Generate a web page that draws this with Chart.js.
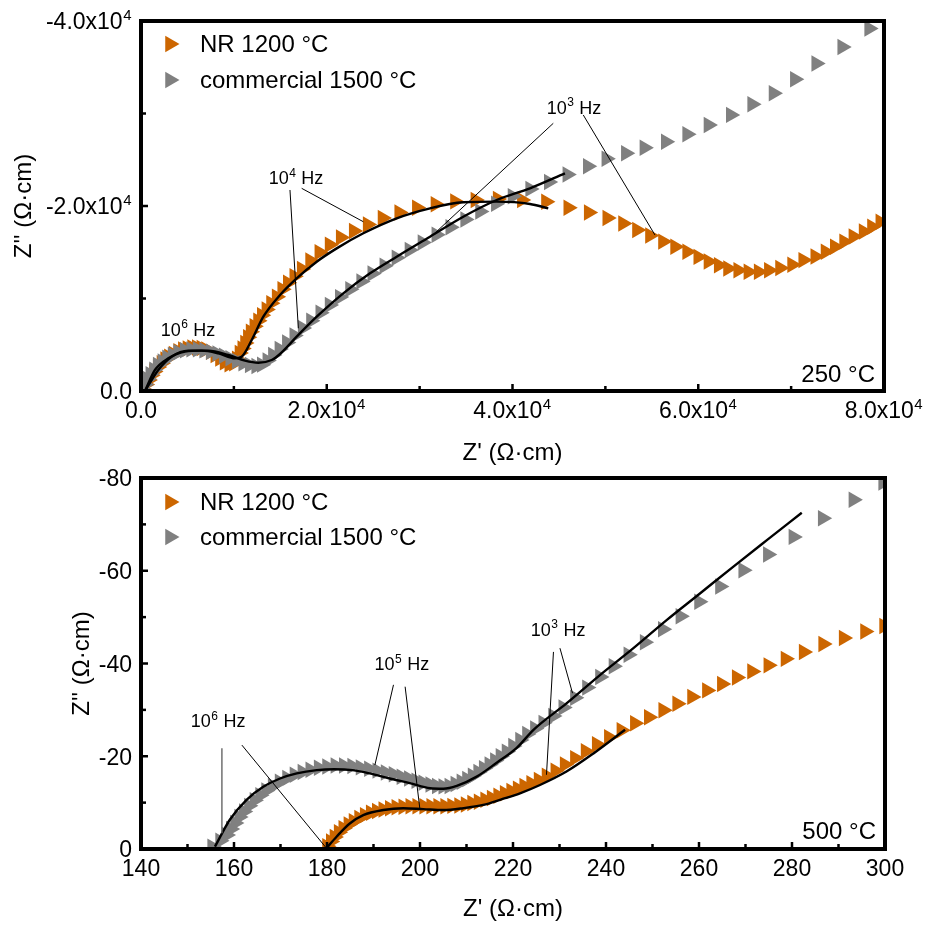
<!DOCTYPE html>
<html>
<head>
<meta charset="utf-8">
<script src="https://cdn.jsdelivr.net/npm/chart.js@4.4.1/dist/chart.umd.min.js"></script>
<style>
  html, body { margin: 0; padding: 0; background: #fff; }
  #wrap { position: relative; width: 929px; height: 927px; overflow: hidden; }
  canvas { position: absolute; left: 0; }
  #c250 { top: 0; }
  #c500 { top: 463px; }
</style>
</head>
<body>
<div id="wrap">
  <canvas id="c250" width="929" height="468"></canvas>
  <canvas id="c500" width="929" height="464"></canvas>
</div>
<script>
const FONT = "'Liberation Sans', Arial, Helvetica, sans-serif";
const ORANGE = '#CC6600';
const GRAY = '#808080';

const seriesNames = ['NR 1200 °C', 'commercial 1500 °C'];
const panelLabels = ['250 °C', '500 °C'];

// ---------- 250 °C : Z' and Z'' in Ω·cm ----------
const nr250X = [200,500,800,1100,1400,1800,2200,2600,3000,3500,4000,4500,5000,5500,6000,6500,7000,7500,8000,8500,
  9000,9500,10000,10300,10600,10900,11200,11500,11800,12200,12600,13000,13500,14000,14600,15200,15800,16500,17300,18200,
  19200,20300,21500,22900,24400,26000,27800,29700,31700,33800,36000,38400,41000,43600,46000,48200,50200,51900,53400,54800,
  56200,57500,58800,60000,61100,62200,63200,64300,65400,66500,67600,68800,70100,71300,72600,73700,74700,75700,76700,77800,
  78700,79600,80500];
const nr250Y = [-200,-700,-1200,-1700,-2100,-2600,-3000,-3400,-3700,-4000,-4300,-4500,-4600,-4700,-4700,-4650,-4500,-4250,-3900,-3500,
  -3100,-2900,-3000,-3500,-4100,-4600,-5200,-5800,-6400,-7000,-7600,-8200,-8800,-9500,-10200,-11000,-11700,-12400,-13200,-14100,
  -15000,-15800,-16600,-17300,-18000,-18700,-19300,-19800,-20200,-20500,-20650,-20750,-20650,-20450,-19800,-19300,-18700,-18100,-17400,-16800,
  -16150,-15600,-15050,-14500,-14000,-13600,-13250,-13050,-12900,-12900,-13050,-13300,-13650,-14150,-14550,-15050,-15600,-16150,-16700,-17250,
  -17750,-18300,-18850];

const com250X = [150,400,700,1000,1400,1800,2300,2800,3400,4000,4700,5400,6100,6800,7500,8200,8900,9600,10300,11000,
  11700,12400,13000,13600,14200,14900,15700,16500,17400,18300,19300,20300,21400,22500,23700,24900,26200,27500,28900,30300,
  31800,33300,34900,36500,38200,40000,41900,43900,45900,48100,50100,52200,54200,56500,58800,61100,63500,65800,68100,70400,
  72700,75500,78400];
const com250Y = [-200,-700,-1300,-1800,-2300,-2800,-3200,-3600,-3900,-4200,-4400,-4500,-4500,-4400,-4250,-4050,-3800,-3550,-3250,-3000,
  -2800,-2700,-2850,-3300,-3900,-4550,-5250,-6000,-6800,-7600,-8450,-9300,-10150,-11000,-11850,-12700,-13550,-14400,-15250,-16050,
  -16900,-17700,-18550,-19400,-20250,-21050,-21850,-22600,-23400,-24300,-25100,-25700,-26300,-26950,-27750,-28750,-29850,-31000,-32200,-33700,
  -35400,-37200,-39200];

// equivalent-circuit fits
const fitNr250X = [430,1500,2940,4740,6530,8320,10120,10840,11920,13170,14970,16760,18920,21070,23940,27530,31120,34700,38300,41880,43850];
const fitNr250Y = [0,-2270,-3530,-4250,-4360,-4070,-3530,-3710,-5510,-8030,-10380,-12180,-13980,-15420,-17050,-18670,-19750,-20400,-20470,-20220,-19750];
const fitCom250X = [431,1860,3300,5090,7240,9400,11200,12630,14070,14970,16760,18920,21780,24660,27530,31120,34700,38300,41880,45650];
const fitCom250Y = [0,-2270,-3710,-4360,-4360,-3890,-3280,-3060,-3350,-4000,-5870,-8030,-10560,-12720,-14520,-16680,-18840,-20650,-21910,-23530];

const ticks250X = [0, 20000, 40000, 60000, 80000];
const minor250X = [10000, 30000, 50000, 70000];
const ticks250Y = [-40000, -20000, 0];
const minor250Y = [-30000, -10000];

// frequency callouts (label anchor, leader segments)
const notes250 = [
  { base: '10', sup: '6', x: 5060, y: -6700 },
  { base: '10', sup: '4', x: 16690, y: -23030 },
  { base: '10', sup: '3', x: 46620, y: -30700 }
];
const leaders250 = [
  [16040, -21730, 16940, -6780],
  [17300, -21910, 23940, -18300],
  [44390, -28940, 31660, -17080],
  [47620, -29840, 55340, -16860]
];

// ---------- 500 °C ----------
const nr500X = [180.0,180.8,181.6,182.5,183.5,184.6,185.7,186.9,188.1,189.4,190.7,192.1,193.5,194.9,196.4,197.9,199.4,200.9,202.4,203.9,
  205.4,206.9,208.4,209.8,211.2,212.6,214.0,215.4,216.8,218.2,219.6,221.0,222.4,223.9,225.5,227.2,229.1,231.1,233.3,235.6,
  238.0,240.6,243.3,246.2,249.2,252.3,255.3,258.5,261.7,264.9,268.1,271.4,274.9,278.6,282.5,286.7,291.1,295.7,299.8];
const nr500Y = [-0.6,-1.6,-2.6,-3.6,-4.5,-5.3,-6.0,-6.7,-7.3,-7.8,-8.2,-8.5,-8.8,-9.0,-9.1,-9.2,-9.2,-9.2,-9.2,-9.2,
  -9.2,-9.3,-9.4,-9.6,-9.9,-10.2,-10.6,-11.0,-11.5,-12.0,-12.5,-13.0,-13.6,-14.2,-14.9,-15.8,-16.9,-18.2,-19.6,-21.1,
  -22.6,-24.1,-25.6,-27.1,-28.4,-29.9,-31.3,-32.8,-34.2,-35.6,-37.0,-38.3,-39.6,-41.0,-42.5,-44.2,-45.5,-46.9,-48.1];

const com500X = [155.3,157.0,158.4,159.3,160.2,161.1,162.1,163.2,164.4,165.6,166.9,168.3,169.8,171.4,173.0,174.7,176.4,178.2,180.0,181.8,
  183.6,185.4,187.2,189.0,190.8,192.6,194.3,196.0,197.6,199.2,200.7,202.2,203.6,205.0,206.3,207.6,208.9,210.1,211.3,212.5,
  213.7,214.9,216.1,217.3,218.6,220.0,221.5,223.0,224.7,226.5,228.6,230.8,233.3,235.9,238.7,241.6,244.8,248.3,252.2,256.0,
  260.0,264.5,269.5,274.8,280.3,286.6,293.2,299.6];
const com500Y = [-0.5,-1.8,-3.0,-4.3,-5.6,-6.9,-8.1,-9.3,-10.5,-11.6,-12.6,-13.6,-14.5,-15.3,-16.0,-16.6,-17.1,-17.5,-17.8,-18.0,
  -18.0,-17.9,-17.6,-17.3,-16.9,-16.5,-16.1,-15.6,-15.2,-14.7,-14.3,-13.9,-13.6,-13.5,-13.6,-14.0,-14.5,-15.1,-15.8,-16.6,
  -17.4,-18.2,-19.1,-20.0,-21.0,-22.2,-23.5,-24.8,-26.0,-27.2,-28.7,-30.5,-32.6,-34.8,-37.1,-39.4,-41.9,-44.6,-47.4,-50.2,
  -53.3,-56.6,-60.1,-63.5,-67.3,-71.3,-75.3,-79.0];

const fitNr500X = [179.9,182.1,184.9,187.8,192.1,196.4,200.7,205.0,209.3,213.6,217.5,221.5,225.8,231.5,237.3,244.1];
const fitNr500Y = [-0.2,-2.7,-5.5,-7.3,-8.4,-8.8,-8.6,-8.4,-8.8,-9.5,-10.7,-12.0,-13.8,-16.7,-20.6,-25.7];
const fitCom500X = [155.9,159.1,162.7,166.3,169.9,173.5,177.8,181.5,185.5,189.2,193.5,197.8,202.2,205.0,207.9,212.2,216.5,220.8,224.4,231.5,238.7,245.9,253.1,260.2,267.4,274.6,282.1];
const fitCom500Y = [-0.5,-6.3,-10.6,-13.4,-15.2,-16.3,-17.0,-17.2,-17.0,-16.3,-15.2,-14.2,-13.1,-13.0,-13.6,-15.6,-18.6,-21.8,-25.7,-31.4,-37.5,-43.3,-49.4,-55.1,-60.9,-66.6,-72.5];

const ticks500X = [140, 160, 180, 200, 220, 240, 260, 280, 300];
const minor500X = [150, 170, 190, 210, 230, 250, 270, 290];
const ticks500Y = [-80, -60, -40, -20, 0];
const minor500Y = [-70, -50, -30, -10];

const notes500 = [
  { base: '10', sup: '6', x: 156.6, y: -27.6 },
  { base: '10', sup: '5', x: 196.1, y: -39.9 },
  { base: '10', sup: '3', x: 229.7, y: -47.4 }
];
const leaders500 = [
  [157.4, -21.7, 157.4, -3.4],
  [161.7, -22.4, 179.9, -0.15],
  [194.3, -35.4, 190.3, -18.1],
  [196.8, -35.0, 200.0, -8.4],
  [228.7, -42.5, 227.2, -16.0],
  [230.1, -43.3, 232.8, -33.6]
];
const leaderColors500 = ['#666666', '#000', '#000', '#000', '#000', '#000'];

// ---------- helpers ----------
const pts = (xs, ys) => xs.map((v, i) => ({ x: v, y: ys[i] }));
const MARK_R = 9.5;
const TICK_SIZE = 23;

// tick text split into mantissa part and power-of-ten exponent
function sciParts(v) {
  if (v === 0) return { base: '0.0', sup: '' };
  return { base: (v / 1e4).toFixed(1) + 'x10', sup: '4' };
}
function plainParts(v) {
  return { base: String(v), sup: '' };
}

function drawTriangle(ctx, x, y, r, color) {
  // right-pointing triangle, same geometry as Chart.js 'triangle' rotated 90°
  ctx.beginPath();
  ctx.moveTo(x + r, y);
  ctx.lineTo(x - r / 2, y + r * Math.sqrt(3) / 2);
  ctx.lineTo(x - r / 2, y - r * Math.sqrt(3) / 2);
  ctx.closePath();
  ctx.fillStyle = color;
  ctx.fill();
}

// text with a raised exponent; align: 'left' | 'center' | 'right' relative to ax
function drawPowerText(ctx, base, sup, tail, ax, cy, size, align) {
  const supSize = Math.round(size * 0.64);
  ctx.font = size + 'px ' + FONT;
  const wb = ctx.measureText(base).width;
  const wt = tail ? ctx.measureText(tail).width : 0;
  ctx.font = supSize + 'px ' + FONT;
  const ws = sup ? ctx.measureText(sup).width + 1 : 0;
  const total = wb + ws + wt;
  let x = align === 'right' ? ax - total : align === 'left' ? ax : ax - total / 2;
  const by = cy + size * 0.36;
  ctx.textAlign = 'left';
  ctx.textBaseline = 'alphabetic';
  ctx.fillStyle = '#000';
  ctx.font = size + 'px ' + FONT;
  ctx.fillText(base, x, by); x += wb;
  if (sup) {
    ctx.font = supSize + 'px ' + FONT;
    ctx.fillText(sup, x + 0.5, by - size * 0.40); x += ws;
  }
  if (tail) {
    ctx.font = size + 'px ' + FONT;
    ctx.fillText(tail, x, by);
  }
}

// frame, inward ticks, tick labels, legend, callouts and temperature tag
const panelDecor = {
  id: 'panelDecor',
  afterDatasetsDraw(chart, args, o) {
    const { ctx, chartArea: a, scales: { x, y } } = chart;
    ctx.save();

    // leader lines
    o.leaders.forEach((l, i) => {
      const c = (o.leaderColors && o.leaderColors[i]) || '#000';
      ctx.beginPath();
      ctx.moveTo(x.getPixelForValue(l[0]), y.getPixelForValue(l[1]));
      ctx.lineTo(x.getPixelForValue(l[2]), y.getPixelForValue(l[3]));
      ctx.strokeStyle = c;
      ctx.lineWidth = c === '#000' ? 1 : 1.4;
      ctx.stroke();
    });

    // frequency labels
    o.notes.forEach(n => {
      drawPowerText(ctx, n.base, n.sup, ' Hz', x.getPixelForValue(n.x), y.getPixelForValue(n.y), 18, 'center');
    });

    // legend inside the plot
    const lx = a.left + 29, tx = a.left + 59;
    const rows = [{ c: ORANGE, t: seriesNames[0], dy: o.legendDy[0] }, { c: GRAY, t: seriesNames[1], dy: o.legendDy[1] }];
    rows.forEach(r => {
      drawTriangle(ctx, lx, a.top + r.dy, MARK_R, r.c);
      ctx.font = '24px ' + FONT;
      ctx.fillStyle = '#000';
      ctx.textAlign = 'left';
      ctx.textBaseline = 'middle';
      ctx.fillText(r.t, tx, a.top + r.dy + 1);
    });

    // temperature tag
    ctx.font = '24px ' + FONT;
    ctx.fillStyle = '#000';
    ctx.textAlign = 'right';
    ctx.textBaseline = 'middle';
    ctx.fillText(o.tag, a.right - 9, a.bottom - o.tagDy);

    // tick labels
    o.xMajor.forEach(v => {
      const p = o.fmtX(v);
      drawPowerText(ctx, p.base, p.sup, '', x.getPixelForValue(v), a.bottom + 19, TICK_SIZE, 'center');
    });
    o.yMajor.forEach(v => {
      const p = o.fmtY(v);
      drawPowerText(ctx, p.base, p.sup, '', a.left - 9, y.getPixelForValue(v), TICK_SIZE, 'right');
    });

    // inward tick marks on the left and bottom axes
    ctx.strokeStyle = '#000';
    ctx.lineWidth = 2.5;
    const tick = (px, py, dx, dy) => { ctx.beginPath(); ctx.moveTo(px, py); ctx.lineTo(px + dx, py + dy); ctx.stroke(); };
    o.xMajor.forEach(v => tick(x.getPixelForValue(v), a.bottom, 0, -7));
    o.xMinor.forEach(v => tick(x.getPixelForValue(v), a.bottom, 0, -5));
    o.yMajor.forEach(v => tick(a.left, y.getPixelForValue(v), 7, 0));
    o.yMinor.forEach(v => tick(a.left, y.getPixelForValue(v), 5, 0));

    // box frame
    ctx.lineWidth = 4;
    ctx.strokeRect(a.left, a.top, a.right - a.left, a.bottom - a.top);
    ctx.restore();
  }
};

function markerSet(label, xs, ys, color, order) {
  return {
    label, data: pts(xs, ys), showLine: false, order, clip: 0,
    pointStyle: 'triangle', pointRotation: 90, pointRadius: MARK_R, pointHoverRadius: MARK_R,
    pointBackgroundColor: color, pointBorderColor: color, pointBorderWidth: 0,
    backgroundColor: color, borderColor: color
  };
}
function fitSet(xs, ys) {
  return {
    label: 'fit', data: pts(xs, ys), showLine: true, order: 0, clip: 0,
    pointRadius: 0, borderColor: '#000', borderWidth: 2.4, fill: false,
    cubicInterpolationMode: 'monotone'
  };
}

function buildPanel(id, p) {
  const titleFont = { family: FONT, size: 24 };
  return new Chart(document.getElementById(id), {
    type: 'scatter',
    data: {
      datasets: [
        fitSet(p.fitNr[0], p.fitNr[1]),
        fitSet(p.fitCom[0], p.fitCom[1]),
        markerSet(seriesNames[1], p.com[0], p.com[1], GRAY, 1),
        markerSet(seriesNames[0], p.nr[0], p.nr[1], ORANGE, 2)
      ]
    },
    options: {
      responsive: false, animation: false, devicePixelRatio: 1,
      events: [],
      layout: { padding: { top: p.padTop, right: p.padRight, left: 0, bottom: 0 } },
      plugins: {
        legend: { display: false }, tooltip: { enabled: false },
        panelDecor: {
          leaders: p.leaders, leaderColors: p.leaderColors, notes: p.notes,
          legendDy: p.legendDy, tag: p.tag, tagDy: p.tagDy,
          xMajor: p.xTicks, xMinor: p.xMinor, yMajor: p.yTicks, yMinor: p.yMinor,
          fmtX: p.fmtX, fmtY: p.fmtY
        }
      },
      scales: {
        x: {
          type: 'linear', position: 'bottom', min: p.xTicks[0], max: p.xTicks[p.xTicks.length - 1],
          afterBuildTicks: s => { s.ticks = p.xTicks.map(v => ({ value: v })); },
          afterFit: s => { s.height = p.xAxisH; },
          grid: { display: false, drawTicks: false }, border: { display: false },
          ticks: { display: false },
          title: { display: true, text: "Z' (\u03A9\u00B7cm)", font: titleFont, color: '#000', padding: { top: 0, bottom: p.xTitlePad } }
        },
        y: {
          type: 'linear', position: 'left', reverse: true,
          min: p.yTicks[0], max: p.yTicks[p.yTicks.length - 1],
          afterBuildTicks: s => { s.ticks = p.yTicks.map(v => ({ value: v })); },
          afterFit: s => { s.width = 141; },
          grid: { display: false, drawTicks: false }, border: { display: false },
          ticks: { display: false },
          title: { display: true, text: "Z'' (\u03A9\u00B7cm)", font: titleFont, color: '#000', padding: { top: p.yTitlePad, bottom: 0 } }
        }
      }
    },
    plugins: [panelDecor]
  });
}

buildPanel('c250', {
  nr: [nr250X, nr250Y], com: [com250X, com250Y],
  fitNr: [fitNr250X, fitNr250Y], fitCom: [fitCom250X, fitCom250Y],
  xTicks: ticks250X, xMinor: minor250X, yTicks: ticks250Y, yMinor: minor250Y,
  fmtX: sciParts, fmtY: sciParts,
  padTop: 21, padRight: 45, xAxisH: 77, xTitlePad: 0, yTitlePad: 10,
  notes: notes250, leaders: leaders250, leaderColors: null,
  legendDy: [23, 59], tag: panelLabels[0], tagDy: 16
});

buildPanel('c500', {
  nr: [nr500X, nr500Y], com: [com500X, com500Y],
  fitNr: [fitNr500X, fitNr500Y], fitCom: [fitCom500X, fitCom500Y],
  xTicks: ticks500X, xMinor: minor500X, yTicks: ticks500Y, yMinor: minor500Y,
  fmtX: plainParts, fmtY: plainParts,
  padTop: 15, padRight: 44, xAxisH: 78, xTitlePad: 3, yTitlePad: 68,
  notes: notes500, leaders: leaders500, leaderColors: leaderColors500,
  legendDy: [24, 59], tag: panelLabels[1], tagDy: 17
});
</script>
</body>
</html>
